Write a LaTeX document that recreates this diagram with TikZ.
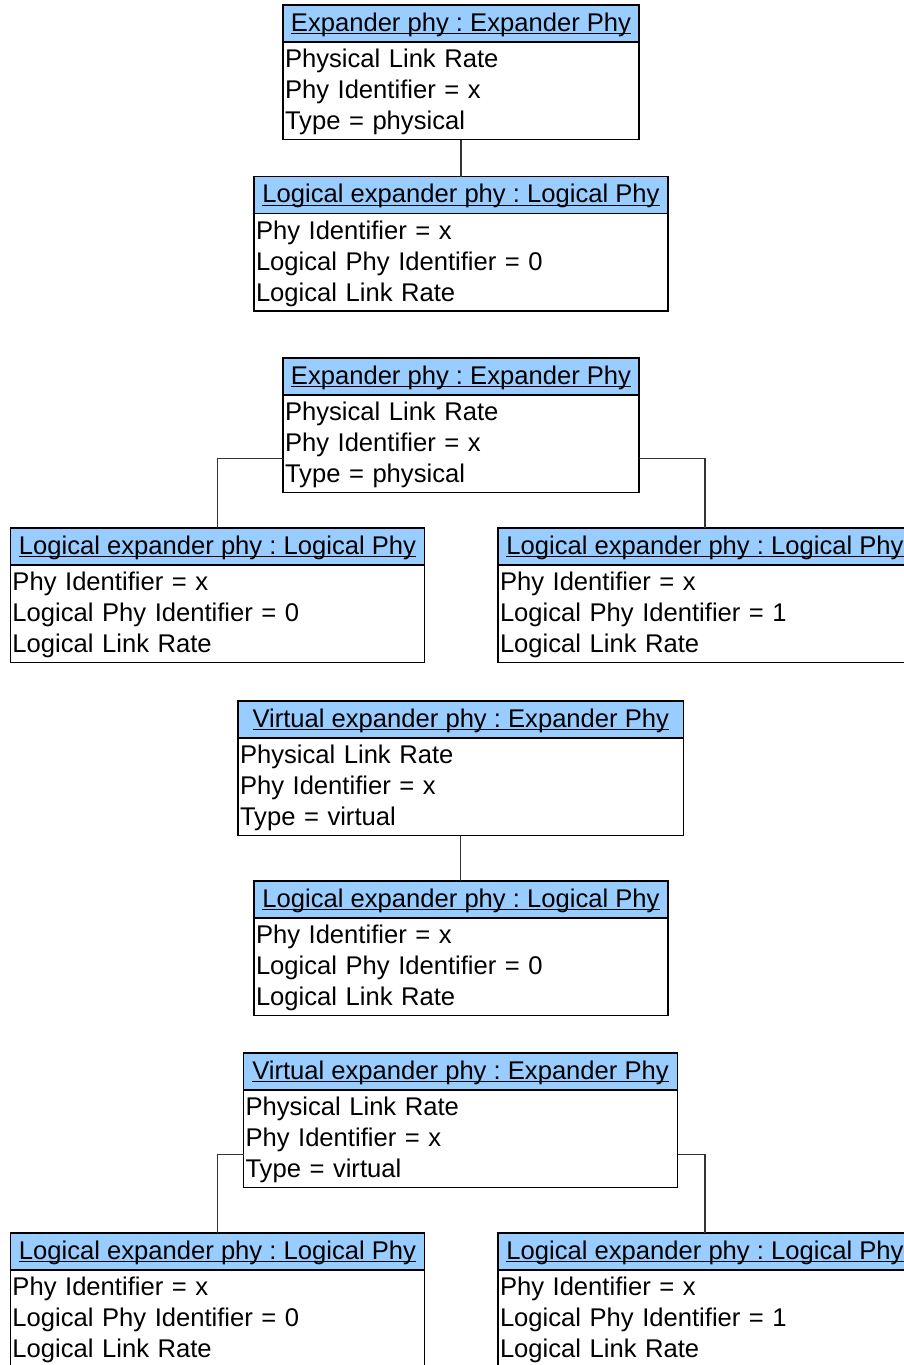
\documentclass[tikz,border=0pt]{standalone}
\usepackage{fontspec}
\setmainfont{Liberation Sans}
\frenchspacing
\newcommand\ulx[1]{\setbox0\hbox{#1}\rlap{\rule[-3.2pt]{\wd0}{1.3pt}}\box0}
\newcommand\lstrut{\rule[-6pt]{0pt}{28pt}}
\definecolor{hdrblue}{HTML}{99CCFF}
\definecolor{connc}{HTML}{333333}
\tikzset{
  hdr/.style={draw=black, line width=1.4pt, fill=hdrblue, anchor=north west,
    minimum height=37pt, inner sep=0pt, outer sep=0pt, text height=20.5pt, text depth=5pt,
    font=\fontsize{25.6}{31}\selectfont},
  bodyb/.style={draw=black, line width=1.4pt, fill=white, anchor=north west,
    minimum height=97.5pt, inner ysep=0pt, inner xsep=2pt, outer sep=0pt, align=left,
    font=\fontsize{25.6}{31}\selectfont},
  conn/.style={draw=connc, line width=1.1pt}
}
\newcommand\classbox[6]{%
  \node[hdr, minimum width=#4pt] (#1h) at (#2,#3) {\ulx{#5}};
  \node[bodyb, text width=#4pt-4pt, minimum width=#4pt] (#1b) at (#1h.south west) {#6};
}
\newcommand\physlines[1]{\lstrut Physical Link Rate\\\lstrut Phy Identifier = x\\\lstrut Type = #1}
\newcommand\loglines[1]{\lstrut Phy Identifier = x\\\lstrut Logical Phy Identifier = #1\\\lstrut Logical Link Rate}
\begin{document}
\begin{tikzpicture}[x=1pt,y=-1pt]
\useasboundingbox (0,0) rectangle (904,1365);
\clip (0,0) rectangle (904,1365);
\classbox{ca}{283}{5}{356}{Expander phy : Expander Phy}{\physlines{physical}}
\classbox{cb}{254}{176.5}{414}{Logical expander phy : Logical Phy}{\loglines{0}}
\classbox{cc}{283}{358}{356}{Expander phy : Expander Phy}{\physlines{physical}}
\classbox{cd}{10.5}{528}{414}{Logical expander phy : Logical Phy}{\loglines{0}}
\classbox{ce}{498}{528}{414}{Logical expander phy : Logical Phy}{\loglines{1}}
\classbox{cf}{238}{701}{445.5}{Virtual expander phy : Expander Phy}{\physlines{virtual}}
\classbox{cg}{254}{881}{414}{Logical expander phy : Logical Phy}{\loglines{0}}
\classbox{ch}{243.5}{1053}{434}{Virtual expander phy : Expander Phy}{\physlines{virtual}}
\classbox{ci}{10.5}{1233}{414}{Logical expander phy : Logical Phy}{\loglines{0}}
\classbox{cj}{498}{1233}{414}{Logical expander phy : Logical Phy}{\loglines{1}}
\draw[conn] (cab.south) -- (cbh.north);
\draw[conn] ([yshift=-14.5pt]ccb.west) -| (cdh.north);
\draw[conn] ([yshift=-14.5pt]ccb.east) -| (ceh.north);
\draw[conn] (cfb.south) -- (cfb.south |- cgh.north);
\draw[conn] ([yshift=-16pt]chb.west) -| (cih.north);
\draw[conn] ([yshift=-16pt]chb.east) -| (cjh.north);
\end{tikzpicture}
\end{document}
